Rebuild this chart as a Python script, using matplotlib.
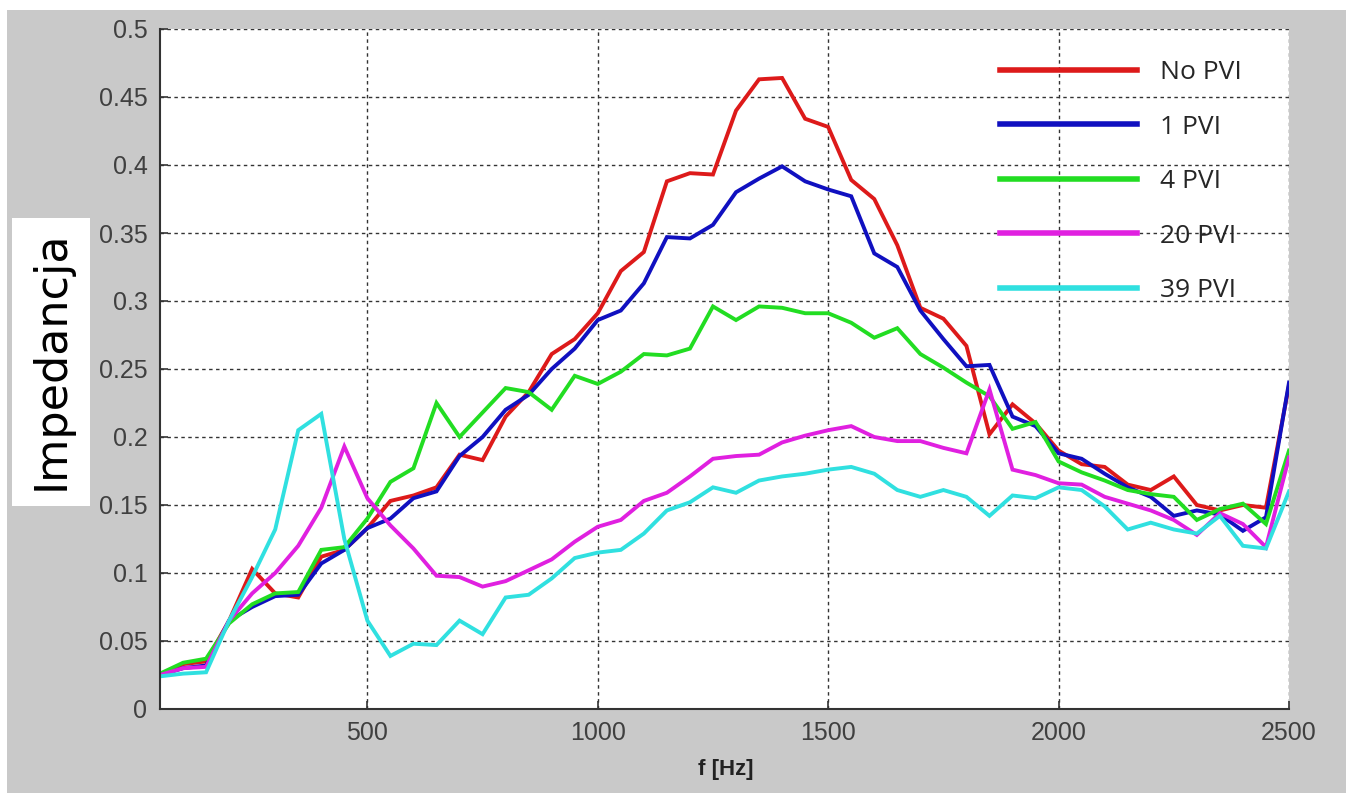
import matplotlib
matplotlib.use("Agg")
import matplotlib.pyplot as plt
from matplotlib.patches import Rectangle

freq = list(range(50, 2501, 50))

no_pvi = [0.025, 0.033, 0.035, 0.065, 0.103, 0.085, 0.082, 0.112, 0.117, 0.133,
          0.153, 0.157, 0.163, 0.187, 0.183, 0.215, 0.233, 0.261, 0.272, 0.291,
          0.322, 0.336, 0.388, 0.394, 0.393, 0.440, 0.463, 0.464, 0.434, 0.428,
          0.389, 0.375, 0.341, 0.295, 0.287, 0.267, 0.202, 0.224, 0.210, 0.190,
          0.180, 0.178, 0.165, 0.161, 0.171, 0.150, 0.146, 0.150, 0.148, 0.238]
pvi_1 = [0.025, 0.030, 0.032, 0.065, 0.075, 0.083, 0.084, 0.107, 0.117, 0.133,
         0.140, 0.155, 0.160, 0.186, 0.200, 0.220, 0.231, 0.250, 0.265, 0.286,
         0.293, 0.313, 0.347, 0.346, 0.356, 0.380, 0.390, 0.399, 0.388, 0.382,
         0.377, 0.335, 0.325, 0.293, 0.272, 0.252, 0.253, 0.215, 0.208, 0.188,
         0.184, 0.173, 0.163, 0.156, 0.142, 0.146, 0.143, 0.131, 0.141, 0.240]
pvi_4 = [0.026, 0.034, 0.037, 0.063, 0.077, 0.085, 0.086, 0.117, 0.119, 0.140,
         0.167, 0.177, 0.225, 0.200, 0.218, 0.236, 0.233, 0.220, 0.245, 0.239,
         0.248, 0.261, 0.260, 0.265, 0.296, 0.286, 0.296, 0.295, 0.291, 0.291,
         0.284, 0.273, 0.280, 0.261, 0.251, 0.240, 0.230, 0.206, 0.211, 0.182,
         0.174, 0.168, 0.161, 0.158, 0.156, 0.139, 0.147, 0.151, 0.136, 0.190]
pvi_20 = [0.025, 0.030, 0.031, 0.065, 0.085, 0.100, 0.120, 0.148, 0.193, 0.155,
          0.135, 0.118, 0.098, 0.097, 0.090, 0.094, 0.102, 0.110, 0.123, 0.134,
          0.139, 0.153, 0.159, 0.171, 0.184, 0.186, 0.187, 0.196, 0.201, 0.205,
          0.208, 0.200, 0.197, 0.197, 0.192, 0.188, 0.235, 0.176, 0.172, 0.166,
          0.165, 0.156, 0.151, 0.146, 0.139, 0.128, 0.144, 0.136, 0.119, 0.185]
pvi_39 = [0.024, 0.026, 0.027, 0.065, 0.097, 0.132, 0.205, 0.217, 0.125, 0.065,
          0.039, 0.048, 0.047, 0.065, 0.055, 0.082, 0.084, 0.096, 0.111, 0.115,
          0.117, 0.129, 0.146, 0.152, 0.163, 0.159, 0.168, 0.171, 0.173, 0.176,
          0.178, 0.173, 0.161, 0.156, 0.161, 0.156, 0.142, 0.157, 0.155, 0.163,
          0.161, 0.149, 0.132, 0.137, 0.132, 0.129, 0.142, 0.120, 0.118, 0.160]

series = [no_pvi, pvi_1, pvi_4, pvi_20, pvi_39]
labels = ["No PVI", "1 PVI", "4 PVI", "20 PVI", "39 PVI"]
colors = ["#dd1a1a", "#1010c0", "#22dd22", "#e020e0", "#30e0e0"]

xticks = [500, 1000, 1500, 2000, 2500]
yticks = [0, 0.05, 0.1, 0.15, 0.2, 0.25, 0.3, 0.35, 0.4, 0.45, 0.5]
yticklabels = ["0", "0.05", "0.1", "0.15", "0.2", "0.25", "0.3", "0.35", "0.4", "0.45", "0.5"]

W, H = 1346, 793
fig = plt.figure(figsize=(W / 100, H / 100), dpi=100, facecolor="white")
fig.patches.append(Rectangle((7 / W, 0), 1 - 7 / W, 1 - 10 / H, transform=fig.transFigure,
                             facecolor="#c9c9c9", edgecolor="none", zorder=-10))
fig.patches.append(Rectangle((12 / W, 1 - 506 / H), 78 / W, 288 / H, transform=fig.transFigure,
                             facecolor="white", edgecolor="none", zorder=-9))

ax = fig.add_axes([160 / W, 1 - 709 / H, (1289 - 160) / W, (709 - 29) / H])
ax.set_facecolor("white")
ax.set_zorder(1)

for vals, lab, col in zip(series, labels, colors):
    ax.plot(freq, vals, color=col, lw=2.8, label=lab, solid_joinstyle="miter")

ax.set_xlim(50, 2500)
ax.set_ylim(0, 0.5)
ax.set_xticks(xticks)
ax.set_xticklabels([str(v) for v in xticks])
ax.set_yticks(yticks)
ax.set_yticklabels(yticklabels)
ax.grid(True, color="#333333", linestyle=(0, (2.5, 2.5)), linewidth=1.0)
ax.set_axisbelow(True)

for s in ["top", "right"]:
    ax.spines[s].set_visible(False)
for s in ["left", "bottom"]:
    ax.spines[s].set_color("#333333")
    ax.spines[s].set_linewidth(1.5)

ax.tick_params(direction="in", length=6, width=1.2, color="#333333",
               labelsize=18, labelcolor="#404040", pad=9)
for lbl in ax.get_xticklabels() + ax.get_yticklabels():
    lbl.set_family("Liberation Sans")

leg = ax.legend(loc="upper left", bbox_to_anchor=(1000 / W, 1 - 60 / H),
                bbox_transform=fig.transFigure, frameon=False,
                prop={"family": "Open Sans", "size": 19},
                handlelength=5.2, handletextpad=0.85, labelspacing=1.12,
                borderpad=0, borderaxespad=0)
for line in leg.get_lines():
    line.set_linewidth(4)
for t in leg.get_texts():
    t.set_color("#262626")

fig.text(51 / W, 1 - 360 / H, "Impedancja", rotation=90, ha="center", va="center",
         fontsize=32, family="DejaVu Sans", color="black")
fig.text(726 / W, 1 - 770 / H, "f [Hz]", ha="center", va="center",
         fontsize=16, fontweight="bold", family="Liberation Sans", color="#222222")

fig.savefig("out.png", dpi=100, facecolor=fig.get_facecolor())
